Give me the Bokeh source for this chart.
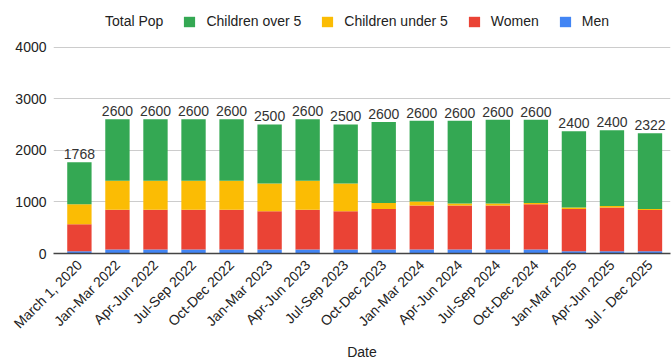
import math
from bokeh.plotting import figure
from bokeh.models import Range1d, FixedTicker, Legend, LegendItem, ColumnDataSource
from bokeh.embed import file_html
from bokeh.resources import INLINE
from bokeh.core.properties import value

dates = ["March 1, 2020", "Jan-Mar 2022", "Apr-Jun 2022", "Jul-Sep 2022", "Oct-Dec 2022",
         "Jan-Mar 2023", "Apr-Jun 2023", "Jul-Sep 2023", "Oct-Dec 2023", "Jan-Mar 2024",
         "Apr-Jun 2024", "Jul-Sep 2024", "Oct-Dec 2024", "Jan-Mar 2025", "Apr-Jun 2025",
         "Jul - Dec 2025"]
men = [45, 78, 78, 78, 78, 78, 78, 78, 78, 78, 78, 78, 78, 45, 45, 45]
women = [520, 770, 770, 770, 770, 740, 770, 740, 785, 850, 850, 850, 876, 817, 845, 798]
children_under_5 = [390, 560, 560, 560, 560, 540, 560, 540, 115, 78, 40, 40, 25, 28, 30, 20]
children_over_5 = [813, 1192, 1192, 1192, 1192, 1142, 1192, 1142, 1570, 1567, 1605, 1625, 1614, 1477, 1466, 1465]
total_pop = ["1768", "2600", "2600", "2600", "2600", "2500", "2600", "2500", "2600", "2600",
             "2600", "2600", "2600", "2400", "2400", "2322"]
y_ticks = [0, 1000, 2000, 3000, 4000]

colors = ["#4285F4", "#EA4335", "#FBBC04", "#34A853"]
FONT = "Liberation Sans"
TXT = "#222222"

# frame spans the full height above the x axis so the legend is drawn inside it;
# value 4000 sits 206.5 px above the baseline in a 253 px tall frame
Y_END = 4000 * 253 / 206.5

xs = list(range(len(dates)))
tops = [a + b + c + d for a, b, c, d in zip(men, women, children_under_5, children_over_5)]
src = ColumnDataSource(dict(x=xs, men=men, women=women, under5=children_under_5,
                            over5=children_over_5, top=tops, label=total_pop))

p = figure(width=671, height=362, output_backend="svg", toolbar_location=None,
           x_range=Range1d(-0.681, 15.539), y_range=Range1d(0, Y_END),
           min_border_left=53, min_border_right=1, min_border_top=0, min_border_bottom=109)
p.outline_line_color = None

rs = p.vbar_stack(["men", "women", "under5", "over5"], x="x", width=0.64, source=src,
                  fill_color=colors, line_color=None)

p.text(x="x", y="top", text="label", source=src, text_align="center",
       text_baseline="alphabetic", y_offset=-8, text_font=value(FONT),
       text_font_size=value("14px"), text_color="#333333")

tp = p.vbar(x=[0], top=[0], width=0.1, fill_alpha=0, line_alpha=0)

legend = Legend(items=[
    LegendItem(label="Total Pop", renderers=[tp]),
    LegendItem(label="Children over 5", renderers=[rs[3]]),
    LegendItem(label="Children under 5", renderers=[rs[2]]),
    LegendItem(label="Women", renderers=[rs[1]]),
    LegendItem(label="Men", renderers=[rs[0]]),
], orientation="horizontal", location=(28, 224), glyph_width=14, glyph_height=13,
    label_standoff=10, spacing=19, padding=0, margin=0, border_line_color=None,
    background_fill_alpha=0, label_text_font=FONT, label_text_font_size="14px",
    label_text_color=TXT)
p.add_layout(legend, "center")

p.xgrid.visible = False
p.ygrid.grid_line_color = "#cccccc"
p.ygrid.ticker = FixedTicker(ticks=y_ticks)

xa = p.xaxis[0]
xa.ticker = FixedTicker(ticks=xs)
xa.major_label_overrides = {i: d for i, d in zip(xs, dates)}
xa.major_label_orientation = math.pi / 4
xa.major_tick_line_color = None
xa.major_tick_out = 0
xa.minor_tick_line_color = None
xa.axis_line_color = "#444444"
xa.axis_line_width = 1.5
xa.major_label_standoff = 9
xa.major_label_text_font = FONT
xa.major_label_text_font_size = "14px"
xa.major_label_text_color = TXT
xa.axis_label = "Date"
xa.axis_label_standoff = 3
xa.axis_label_text_font = FONT
xa.axis_label_text_font_size = "14px"
xa.axis_label_text_font_style = "normal"
xa.axis_label_text_color = TXT

ya = p.yaxis[0]
ya.ticker = FixedTicker(ticks=y_ticks)
ya.axis_line_color = None
ya.major_tick_line_color = None
ya.major_tick_out = 0
ya.minor_tick_line_color = None
ya.major_label_standoff = 7
ya.major_label_text_font = FONT
ya.major_label_text_font_size = "14px"
ya.major_label_text_color = TXT

open("out.html", "w").write(file_html(p, INLINE))
